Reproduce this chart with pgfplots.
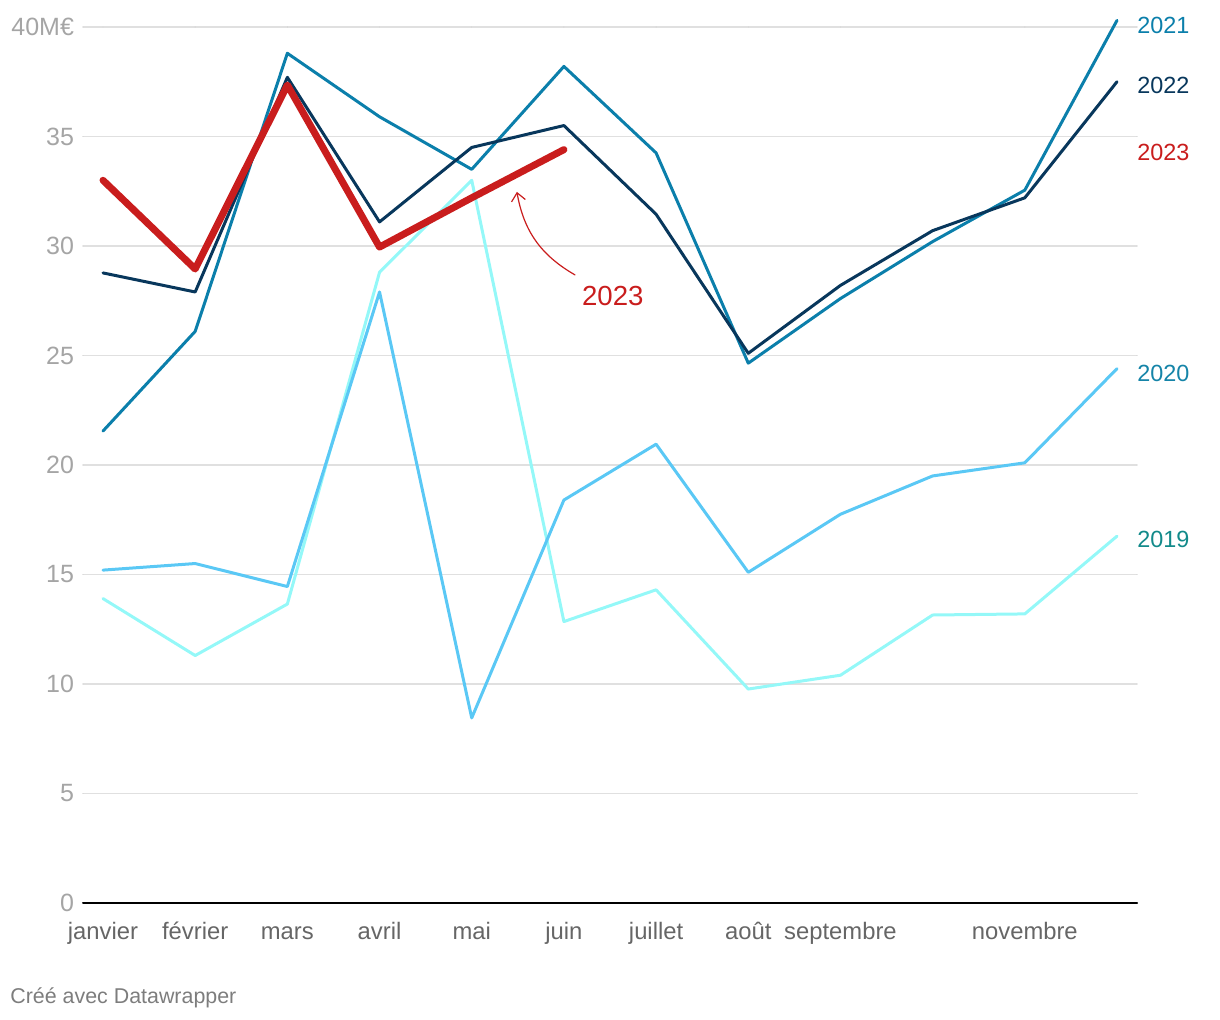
\documentclass[border=0pt]{standalone}
\usepackage{pgfplots}
\pgfplotsset{compat=1.18}
\usepackage{fontspec}
\setmainfont{Liberation Sans}
\usetikzlibrary{arrows.meta}
\definecolor{c2019}{HTML}{94F8F8}
\definecolor{c2020}{HTML}{5AC8F5}
\definecolor{c2021}{HTML}{0B7FAB}
\definecolor{c2022}{HTML}{08375C}
\definecolor{c2023}{HTML}{C91D1D}
\definecolor{l2020}{HTML}{1584A8}
\definecolor{l2019}{HTML}{128A8A}
\definecolor{gridc}{HTML}{E0E0E0}
\definecolor{ytc}{HTML}{A5A5A5}
\definecolor{xtc}{HTML}{666666}
\begin{document}
\begin{tikzpicture}
\path[use as bounding box] (-41.5pt,-58.5pt) rectangle (568.5pt,451.5pt);
\begin{axis}[
  at={(0,0)}, anchor=south west,
  scale only axis, width=527pt, height=438pt,
  xmin=-0.217, xmax=11.217, ymin=0, ymax=40,
  clip=false,
  axis line style={draw=none},
  major tick length=0pt,
  xtick={0,1,2,3,4,5,6,7,8,10},
  xticklabels={janvier,février,mars,avril,mai,juin,juillet,août,septembre,novembre},
  ytick={0,5,10,15,20,25,30,35,40},
  yticklabels={0,5,10,15,20,25,30,35,40M€},
  ymajorgrids, major grid style={gridc, line width=0.9pt},
  yticklabel style={text=ytc, font=\fontsize{12.5}{14}\selectfont, anchor=east, xshift=-1pt},
  xticklabel style={text=xtc, font=\fontsize{11.9}{14}\selectfont, anchor=base, yshift=-18.5pt},
  line join=round, line cap=round,
]
\draw[black, line width=1pt] (axis cs:-0.217,0) -- (axis cs:11.217,0);
\addplot[c2019, line width=1.5pt] coordinates {(0,13.9) (1,11.3) (2,13.65) (3,28.8) (4,33.0) (5,12.85) (6,14.3) (7,9.77) (8,10.4) (9,13.15) (10,13.2) (11,16.75)};
\addplot[c2020, line width=1.5pt] coordinates {(0,15.2) (1,15.5) (2,14.45) (3,27.9) (4,8.45) (5,18.4) (6,20.95) (7,15.1) (8,17.75) (9,19.5) (10,20.1) (11,24.4)};
\addplot[c2021, line width=1.5pt] coordinates {(0,21.55) (1,26.1) (2,38.8) (3,35.9) (4,33.5) (5,38.2) (6,34.25) (7,24.65) (8,27.6) (9,30.2) (10,32.55) (11,40.3)};
\addplot[c2022, line width=1.5pt] coordinates {(0,28.77) (1,27.9) (2,37.7) (3,31.1) (4,34.5) (5,35.5) (6,31.45) (7,25.1) (8,28.2) (9,30.7) (10,32.2) (11,37.5)};
\addplot[c2023, line width=3.5pt] coordinates {(0,33.0) (1,28.95) (2,37.35) (3,29.95) (4,32.2) (5,34.4)};
\begin{scope}[font=\fontsize{11.7}{13}\selectfont]
\node[anchor=west, text=c2021, inner sep=0pt] at (axis cs:11.217,40.09) {2021};
\node[anchor=west, text=c2022, inner sep=0pt] at (axis cs:11.217,37.35) {2022};
\node[anchor=west, text=c2023, inner sep=0pt] at (axis cs:11.217,34.25) {2023};
\node[anchor=west, text=l2020, inner sep=0pt] at (axis cs:11.217,24.2) {2020};
\node[anchor=west, text=l2019, inner sep=0pt] at (axis cs:11.217,16.62) {2019};
\end{scope}
\node[text=c2023, inner sep=0pt, font=\fontsize{13.8}{15}\selectfont] at (axis cs:5.53,27.7) {2023};
\draw[c2023, line width=0.6pt, -{Straight Barb[length=4pt,width=7pt]}] (axis cs:5.12,28.68) to[bend left=25] (axis cs:4.49,32.47);
\end{axis}
\node[anchor=base west, text=xtc!85, font=\fontsize{10.7}{12}\selectfont, inner sep=0pt] at (-36.5pt,-50.5pt) {Créé avec Datawrapper};
\end{tikzpicture}
\end{document}
